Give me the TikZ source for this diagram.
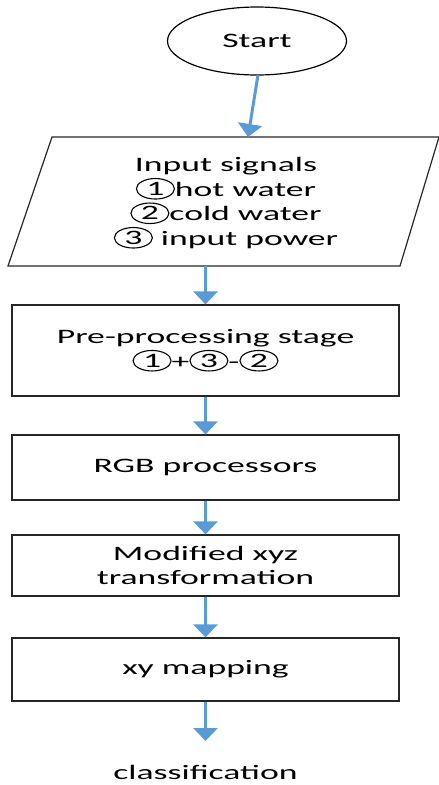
\documentclass[tikz,border=0pt]{standalone}
\usepackage{fontspec}
\setmainfont{Carlito}[FakeStretch=1.74]
\usetikzlibrary{arrows.meta,shapes.geometric}
\definecolor{arrowblue}{HTML}{5B9BD5}
\newcommand\cnum[1]{\tikz[baseline={([yshift=-0.36em]cc.center)}]\node[draw=black,ellipse,line width=1.1pt,inner sep=0pt,minimum width=38pt,minimum height=20.5pt](cc){#1};}
\tikzset{
  boxstyle/.style={draw=black!85,line width=1.2pt,minimum width=387pt,inner sep=0pt,align=center,font=\fontsize{20.5}{24.5}\selectfont},
  flowarrow/.style={draw=arrowblue,line width=3pt,-{Triangle[width=24pt,length=13pt]}},
  txt/.style={align=center,font=\fontsize{20.5}{24.5}\selectfont}
}
\begin{document}
\begin{tikzpicture}[x=1pt,y=-1pt]
\useasboundingbox (0,0) rectangle (439,785);
% start
\node[draw=black,line width=1.2pt,ellipse,minimum width=179pt,minimum height=68pt,txt] (start) at (257,41) {Start};
% parallelogram
\coordinate (ptl) at (52,137);
\coordinate (ptr) at (439,137);
\coordinate (pbr) at (400,266);
\coordinate (pbl) at (8,266);
\draw[draw=black!85,line width=1.2pt] (ptl) -- (ptr) -- (pbr) -- (pbl) -- cycle;
\node[txt] (input) at (226,203) {Input signals\\\cnum{1}hot water\\\cnum{2}cold water\\\cnum{3} input power};
\coordinate (pin) at (248,137);
\coordinate (pout) at (205.5,266);
% boxes
\node[boxstyle,minimum height=91pt] (pre) at (205.5,350.5) {Pre-processing stage\\\cnum{1}+\cnum{3}-\cnum{2}};
\node[boxstyle,minimum height=65pt] (rgb) at (205.5,467.5) {RGB processors};
\node[boxstyle,minimum height=61pt] (xyz) at (205.5,565.5) {Modified xyz\\transformation};
\node[boxstyle,minimum height=63pt] (xy) at (205.5,669.5) {xy mapping};
\node[txt] (cls) at (205.5,772) {classification};
\coordinate (clsin) at (205.5,741);
% arrows
\draw[flowarrow] (258,75) -- (pin);
\draw[flowarrow] (pout) -- (pre.north);
\draw[flowarrow] (pre.south) -- (rgb.north);
\draw[flowarrow] (rgb.south) -- (xyz.north);
\draw[flowarrow] (xyz.south) -- (xy.north);
\draw[flowarrow] (xy.south) -- (clsin);
\end{tikzpicture}
\end{document}
